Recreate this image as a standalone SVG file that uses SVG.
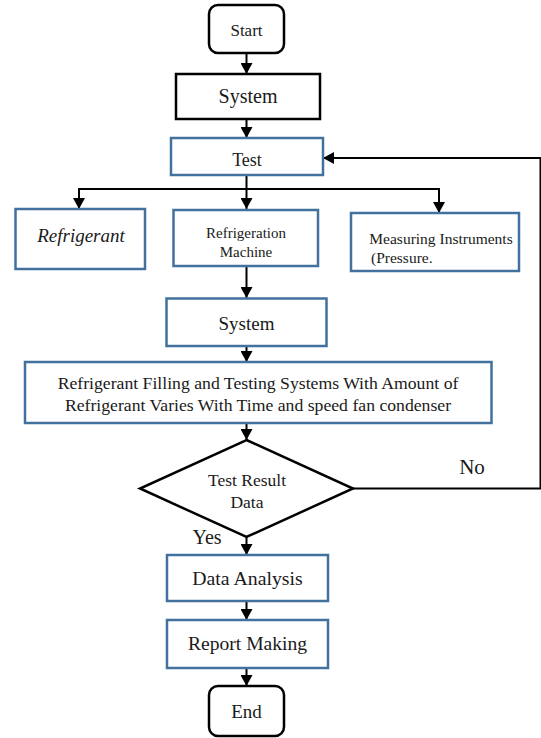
<svg xmlns="http://www.w3.org/2000/svg" width="541" height="738" viewBox="0 0 541 738">
<defs>
<marker id="ah" markerUnits="userSpaceOnUse" markerWidth="12" markerHeight="12" refX="11" refY="6" orient="auto">
<path d="M0,0 L11,6 L0,12 z" fill="#000"/>
</marker>
<style>
.term{fill:#fff;stroke:#000;stroke-width:2.5}
.blk{fill:#fff;stroke:#000;stroke-width:2.5}
.blu{fill:#fff;stroke:#41719C;stroke-width:2.5}
.dec{fill:#fff;stroke:#000;stroke-width:2.5}
text{font-family:'Liberation Serif',serif;fill:#1a1a1a;text-anchor:middle}
.c{fill:none;stroke:#000;stroke-width:2}
</style>
</defs>
<rect width="541" height="738" fill="#fff"/>
<g id="connectors" font-family="Liberation Serif, serif">
<line class="c" x1="246.5" y1="53" x2="246.5" y2="74" marker-end="url(#ah)"/>
<line class="c" x1="246.5" y1="119" x2="246.5" y2="138" marker-end="url(#ah)"/>
<line class="c" x1="246.5" y1="175" x2="246.5" y2="209" marker-end="url(#ah)"/>
<polyline class="c" points="79,209 79,189 439,189 439,213" marker-end="url(#ah)"/>
<line class="c" x1="79" y1="189" x2="79" y2="209" marker-end="url(#ah)"/>
<line class="c" x1="246.5" y1="266" x2="246.5" y2="298" marker-end="url(#ah)"/>
<line class="c" x1="246.5" y1="346" x2="246.5" y2="362" marker-end="url(#ah)"/>
<line class="c" x1="246.5" y1="423" x2="246.5" y2="440" marker-end="url(#ah)"/>
<line class="c" x1="246.5" y1="537" x2="246.5" y2="555" marker-end="url(#ah)"/>
<line class="c" x1="246.5" y1="601" x2="246.5" y2="620" marker-end="url(#ah)"/>
<line class="c" x1="246.5" y1="668" x2="246.5" y2="686" marker-end="url(#ah)"/>
<polyline class="c" points="353,488.5 540.5,488.5 540.5,158 323,158" marker-end="url(#ah)"/>
<text font-family="Liberation Serif, serif" x="472" y="474" font-size="21px">No</text>
<text font-family="Liberation Serif, serif" x="207" y="544" font-size="20px">Yes</text>
</g>
<g id="start" font-family="Liberation Serif, serif">
<rect class="term" x="209" y="5" width="75" height="48" rx="9"/>
<text font-family="Liberation Serif, serif" x="246.5" y="36" font-size="17px">Start</text>
</g>
<g id="system1" font-family="Liberation Serif, serif">
<rect class="blk" x="176" y="74" width="144" height="45"/>
<text font-family="Liberation Serif, serif" x="248" y="103" font-size="20px">System</text>
</g>
<g id="test" font-family="Liberation Serif, serif">
<rect class="blu" x="171" y="138" width="152" height="37"/>
<text font-family="Liberation Serif, serif" x="247" y="166" font-size="18px">Test</text>
</g>
<g id="refrigerant" font-family="Liberation Serif, serif">
<rect class="blu" x="15.5" y="209" width="129.5" height="60"/>
<text font-family="Liberation Serif, serif" x="81" y="242" font-size="19px" font-style="italic">Refrigerant</text>
</g>
<g id="machine" font-family="Liberation Serif, serif">
<rect class="blu" x="173.5" y="210" width="144.5" height="56"/>
<text font-family="Liberation Serif, serif" x="246" y="237.5" font-size="15px">Refrigeration</text>
<text font-family="Liberation Serif, serif" x="246" y="256.5" font-size="15px">Machine</text>
</g>
<g id="instruments" font-family="Liberation Serif, serif">
<rect class="blu" x="351" y="213" width="168" height="58"/>
<text font-family="Liberation Serif, serif" x="441" y="244" font-size="15.5px">Measuring Instruments</text>
<text font-family="Liberation Serif, serif" x="371" y="263" font-size="15.5px" style="text-anchor:start">(Pressure.</text>
</g>
<g id="system2" font-family="Liberation Serif, serif">
<rect class="blu" x="166.5" y="298.5" width="160" height="47.5"/>
<text font-family="Liberation Serif, serif" x="246.5" y="330" font-size="19px">System</text>
</g>
<g id="filling" font-family="Liberation Serif, serif">
<rect class="blu" x="25" y="362" width="466.5" height="61"/>
<text font-family="Liberation Serif, serif" x="258" y="389" font-size="17.7px">Refrigerant Filling and Testing Systems With Amount of</text>
<text font-family="Liberation Serif, serif" x="258" y="411" font-size="17.7px">Refrigerant Varies With Time and speed fan condenser</text>
</g>
<g id="decision" font-family="Liberation Serif, serif">
<polygon class="dec" points="246.5,440 353,488.5 246.5,537 140,488.5"/>
<text font-family="Liberation Serif, serif" x="247" y="486" font-size="17.5px">Test Result</text>
<text font-family="Liberation Serif, serif" x="247" y="508" font-size="17.5px">Data</text>
</g>
<g id="analysis" font-family="Liberation Serif, serif">
<rect class="blu" x="167" y="555" width="161" height="46"/>
<text font-family="Liberation Serif, serif" x="247.5" y="585" font-size="19.8px">Data Analysis</text>
</g>
<g id="report" font-family="Liberation Serif, serif">
<rect class="blu" x="167" y="620" width="161" height="48"/>
<text font-family="Liberation Serif, serif" x="247.5" y="650" font-size="19.6px">Report Making</text>
</g>
<g id="end" font-family="Liberation Serif, serif">
<rect class="term" x="209" y="686" width="75" height="50" rx="9"/>
<text font-family="Liberation Serif, serif" x="246.5" y="718" font-size="19px">End</text>
</g>
</svg>
